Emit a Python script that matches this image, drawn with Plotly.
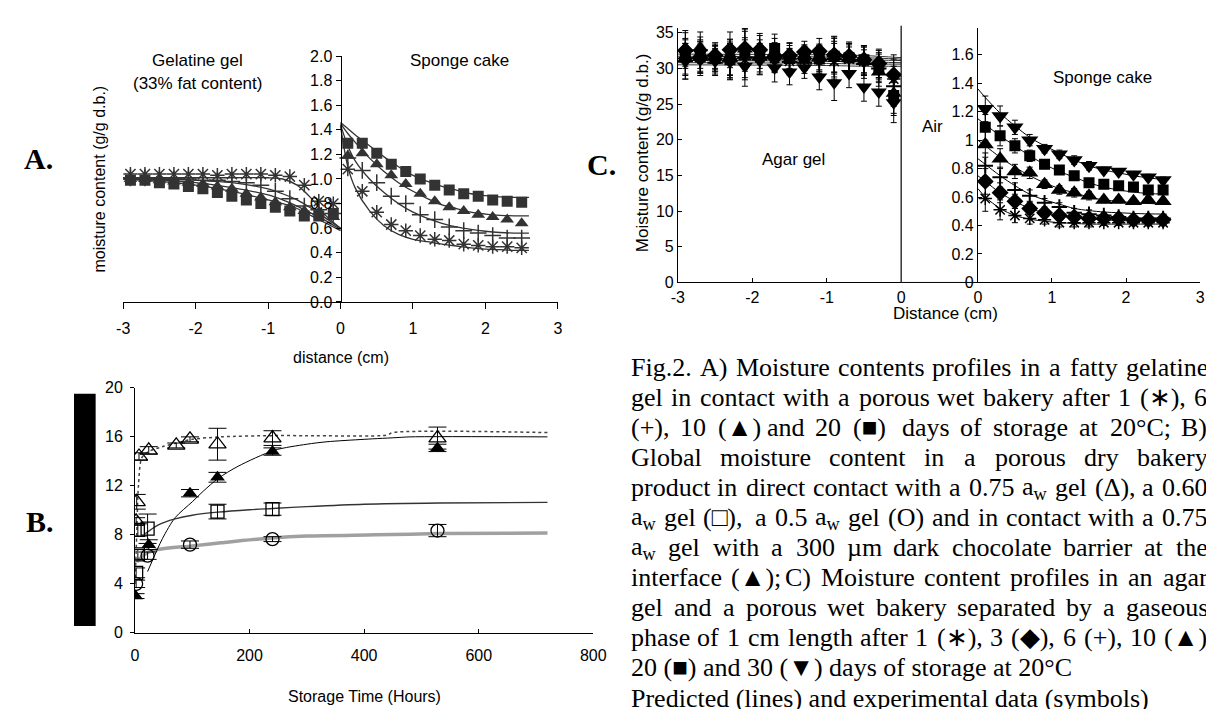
import plotly.graph_objects as go

# ---------------- DATA ----------------
# Panel A: gel side (negative distance) and sponge-cake side
A_gel_x = [-2.9, -2.7, -2.5, -2.3, -2.1, -1.9, -1.7, -1.5, -1.3, -1.1, -0.9, -0.7, -0.5, -0.3, -0.1]
A_gel_star = [1.04, 1.04, 1.04, 1.04, 1.04, 1.04, 1.03, 1.04, 1.04, 1.04, 1.03, 1.02, 0.95, 0.82, 0.80]
A_gel_plus = [1.01, 1.01, 1.00, 1.00, 1.00, 0.99, 0.99, 0.98, 0.97, 0.95, 0.90, 0.84, 0.78, 0.75, 0.72]
A_gel_tri = [1.00, 1.00, 0.99, 0.98, 0.97, 0.96, 0.94, 0.92, 0.88, 0.85, 0.81, 0.77, 0.74, 0.73, 0.69]
A_gel_sq = [0.99, 0.99, 0.97, 0.96, 0.94, 0.92, 0.89, 0.86, 0.83, 0.80, 0.77, 0.74, 0.70, 0.70, 0.72]

A_cake_x = [0.1, 0.3, 0.5, 0.7, 0.9, 1.1, 1.3, 1.5, 1.7, 1.9, 2.1, 2.3, 2.5]
A_cake_star = [1.08, 0.90, 0.73, 0.63, 0.58, 0.54, 0.51, 0.50, 0.47, 0.46, 0.45, 0.45, 0.44]
A_cake_plus = [1.17, 1.07, 0.97, 0.86, 0.80, 0.71, 0.67, 0.61, 0.58, 0.56, 0.54, 0.52, 0.52]
A_cake_tri = [1.19, 1.21, 1.12, 1.03, 0.96, 0.88, 0.82, 0.77, 0.74, 0.71, 0.69, 0.67, 0.64]
A_cake_sq = [1.29, 1.29, 1.21, 1.12, 1.06, 1.00, 0.95, 0.91, 0.88, 0.86, 0.83, 0.82, 0.81]

# predicted lines, panel A
A_line_gel_x = [-3.0, -2.5, -2.0, -1.5, -1.0, -0.8, -0.6, -0.4, -0.2, 0.0]
A_line_gel_star = [1.01, 1.01, 1.01, 1.01, 1.01, 1.00, 0.95, 0.84, 0.70, 0.60]
A_line_gel_plus = [1.00, 1.00, 0.99, 0.97, 0.92, 0.88, 0.83, 0.76, 0.68, 0.60]
A_line_gel_tri = [1.00, 0.99, 0.97, 0.93, 0.87, 0.83, 0.78, 0.72, 0.66, 0.59]
A_line_gel_sq = [1.00, 0.98, 0.95, 0.90, 0.83, 0.80, 0.76, 0.70, 0.64, 0.58]

A_line_cake_x = [0.0, 0.1, 0.2, 0.4, 0.6, 0.8, 1.0, 1.2, 1.4, 1.6, 1.8, 2.0, 2.2, 2.4, 2.6]
A_line_cake_sq = [1.46, 1.41, 1.36, 1.27, 1.18, 1.10, 1.03, 0.98, 0.94, 0.91, 0.88, 0.865, 0.855, 0.85, 0.85]
A_line_cake_tri = [1.45, 1.37, 1.30, 1.17, 1.06, 0.97, 0.90, 0.84, 0.79, 0.76, 0.73, 0.715, 0.705, 0.70, 0.70]
A_line_cake_plus = [1.44, 1.27, 1.15, 1.00, 0.89, 0.80, 0.73, 0.68, 0.64, 0.61, 0.59, 0.575, 0.565, 0.56, 0.56]
A_line_cake_star = [1.43, 1.10, 0.93, 0.74, 0.62, 0.55, 0.51, 0.49, 0.47, 0.455, 0.44, 0.43, 0.425, 0.42, 0.42]

# Panel B: global moisture content vs storage time (hours)
B_otri_t = [2, 3, 7, 24, 72, 96, 144, 240, 528]
B_otri_y = [9.1, 10.7, 14.4, 14.9, 15.3, 15.8, 15.4, 15.9, 15.9]
B_otri_e = [0.3, 0.6, 0.3, 0.3, 0.2, 0.2, 1.3, 0.6, 0.9]
B_ftri_t = [1, 24, 96, 144, 240, 528]
B_ftri_y = [3.0, 7.2, 11.4, 12.7, 14.8, 15.1]
B_ftri_e = [0.2, 0.4, 0.3, 0.4, 0.3, 0.3]
B_sq_t = [2, 5, 5, 22, 144, 240]
B_sq_y = [4.9, 6.4, 8.4, 8.5, 9.9, 10.1]
B_sq_e = [0.4, 0.4, 0.5, 1.2, 0.6, 0.5]
B_circ_t = [2, 22, 96, 240, 528]
B_circ_y = [4.0, 6.3, 7.2, 7.65, 8.35]
B_circ_e = [0.3, 0.3, 0.3, 0.2, 0.5]

B_line_otri_t = [0, 3, 6, 12, 24, 48, 72, 100, 150, 240, 300, 440, 450, 720]
B_line_otri_y = [4.0, 8.0, 12.0, 14.3, 14.8, 15.2, 15.5, 15.8, 16.0, 16.1, 16.1, 16.15, 16.35, 16.35]
B_line_ftri_t = [22, 48, 70, 100, 120, 145, 180, 243, 300, 335, 400, 461, 480, 720]
B_line_ftri_y = [5.0, 7.7, 9.4, 10.7, 11.6, 12.6, 13.6, 14.9, 15.4, 15.6, 15.8, 15.95, 16.0, 16.0]
B_line_sq_t = [18, 40, 70, 100, 144, 200, 240, 300, 400, 530, 720]
B_line_sq_y = [8.1, 8.8, 9.3, 9.6, 9.85, 10.05, 10.15, 10.3, 10.5, 10.6, 10.65]
B_line_circ_t = [3, 20, 40, 100, 150, 240, 300, 420, 530, 720]
B_line_circ_y = [5.8, 6.5, 6.8, 7.1, 7.35, 7.75, 7.9, 8.0, 8.1, 8.15]

# Panel C left: agar gel
C_gel_x = [-2.9, -2.7, -2.5, -2.3, -2.1, -1.9, -1.7, -1.5, -1.3, -1.1, -0.9, -0.7, -0.5, -0.3, -0.1]
C_gel_star = [31.5, 31.8, 31.3, 31.6, 31.2, 31.5, 31.4, 31.0, 31.2, 31.4, 31.0, 31.3, 31.0, 30.5, 28.5]
C_gel_diam = [32.5, 31.5, 31.8, 32.6, 32.8, 32.6, 31.5, 31.8, 32.3, 32.4, 31.9, 31.7, 31.2, 30.7, 29.1]
C_gel_plus = [31.0, 31.2, 30.8, 31.0, 31.5, 31.2, 31.6, 30.9, 30.8, 31.1, 31.3, 31.0, 30.6, 30.0, 27.5]
C_gel_tri = [32.8, 32.9, 31.6, 31.5, 32.7, 32.9, 32.2, 31.7, 31.8, 31.6, 32.0, 31.5, 31.0, 29.5, 26.5]
C_gel_sq = [31.7, 31.6, 31.4, 31.2, 32.4, 32.0, 32.8, 31.4, 31.6, 31.3, 31.7, 31.5, 31.2, 30.2, 26.2]
C_gel_itri = [31.0, 32.2, 31.0, 30.9, 30.3, 31.1, 30.1, 29.5, 30.1, 28.8, 28.0, 29.3, 27.4, 26.7, 25.2]
C_gel_err = [2.5, 2.2, 1.8, 2.5, 2.8, 2.0, 2.0, 1.8, 1.5, 1.8, 2.5, 2.0, 2.0, 2.0, 2.8]

C_line_gel_x = [-3.0, -1.0, -0.5, 0.0]
C_line_gel = [[32.0, 31.9, 31.8, 31.5], [31.7, 31.6, 31.5, 31.3], [31.4, 31.3, 31.2, 31.1],
              [31.1, 31.0, 30.9, 30.8], [30.8, 30.7, 30.6, 30.6], [30.5, 30.4, 30.3, 30.3]]

# Panel C right: sponge cake
C_cake_x = [0.1, 0.3, 0.5, 0.7, 0.9, 1.1, 1.3, 1.5, 1.7, 1.9, 2.1, 2.3, 2.5]
C_cake_itri = [1.22, 1.17, 1.09, 1.00, 0.94, 0.90, 0.86, 0.82, 0.79, 0.78, 0.76, 0.74, 0.72]
C_cake_sq = [1.09, 1.03, 0.96, 0.89, 0.83, 0.79, 0.75, 0.70, 0.69, 0.68, 0.67, 0.65, 0.65]
C_cake_tri = [0.97, 0.87, 0.78, 0.77, 0.69, 0.65, 0.63, 0.61, 0.58, 0.58, 0.57, 0.58, 0.57]
C_cake_plus = [0.82, 0.74, 0.65, 0.61, 0.56, 0.53, 0.49, 0.48, 0.47, 0.46, 0.45, 0.45, 0.45]
C_cake_diam = [0.71, 0.63, 0.57, 0.52, 0.49, 0.47, 0.46, 0.45, 0.45, 0.45, 0.44, 0.44, 0.44]
C_cake_star = [0.59, 0.51, 0.47, 0.45, 0.44, 0.42, 0.42, 0.42, 0.42, 0.42, 0.42, 0.42, 0.42]
C_cake_err = [0.09, 0.07, 0.05, 0.04, 0.03, 0.03, 0.03, 0.03, 0.02, 0.02, 0.02, 0.02, 0.02]

C_line_cake_x = [0.0, 0.1, 0.3, 0.5, 0.7, 0.9, 1.1, 1.3, 1.5, 1.7, 1.9, 2.1, 2.3, 2.55]
C_line_cake_itri = [1.36, 1.30, 1.19, 1.10, 1.02, 0.96, 0.91, 0.86, 0.82, 0.79, 0.77, 0.75, 0.735, 0.72]
C_line_cake_sq = [1.15, 1.11, 1.03, 0.96, 0.89, 0.83, 0.78, 0.74, 0.70, 0.67, 0.65, 0.635, 0.625, 0.62]
C_line_cake_tri = [1.00, 0.96, 0.88, 0.81, 0.75, 0.70, 0.66, 0.63, 0.60, 0.58, 0.57, 0.56, 0.555, 0.55]
C_line_cake_plus = [0.87, 0.83, 0.75, 0.68, 0.62, 0.58, 0.55, 0.52, 0.505, 0.495, 0.49, 0.485, 0.482, 0.48]
C_line_cake_diam = [0.75, 0.71, 0.63, 0.57, 0.52, 0.49, 0.47, 0.455, 0.445, 0.44, 0.435, 0.432, 0.43, 0.43]
C_line_cake_star = [0.66, 0.60, 0.52, 0.47, 0.445, 0.43, 0.42, 0.415, 0.41, 0.41, 0.41, 0.41, 0.41, 0.41]

# tick labels
A_xticks = [-3, -2, -1, 0, 1, 2, 3]
A_yticks = [0.0, 0.2, 0.4, 0.6, 0.8, 1.0, 1.2, 1.4, 1.6, 1.8, 2.0]
B_xticks = [0, 200, 400, 600, 800]
B_yticks = [0, 4, 8, 12, 16, 20]
C_lx_ticks = [-3, -2, -1, 0]
C_rx_ticks = [0, 1, 2, 3]
C_ly_ticks = [0, 5, 10, 15, 20, 25, 30, 35]
C_ry_ticks = [0, 0.2, 0.4, 0.6, 0.8, 1, 1.2, 1.4, 1.6]

caption_lines = [
    ("Fig.2. A) Moisture contents profiles in a fatty gelatine", True),
    ("gel in contact with a porous wet bakery after 1 (\u2217), 6", True),
    ("(+), 10 (\u25b2) and 20 (\u25a0) days of storage at 20\u00b0C; B)", True),
    ("Global moisture content in a porous dry bakery", True),
    ("product in direct contact with a 0.75 a<sub>w</sub> gel (\u0394), a 0.60", True),
    ("a<sub>w</sub> gel (\u25a1), a 0.5 a<sub>w</sub> gel (O) and in contact with a 0.75", True),
    ("a<sub>w</sub> gel with a 300 \u00b5m dark chocolate barrier at the", True),
    ("interface (\u25b2); C) Moisture content profiles in an agar", True),
    ("gel and a porous wet bakery separated by a gaseous", True),
    ("phase of 1 cm length after 1 (\u2217), 3 (\u25c6), 6 (+), 10 (\u25b2),", True),
    ("20 (\u25a0) and 30 (\u25bc) days of storage at 20\u00b0C", False),
    ("Predicted (lines) and experimental data (symbols)", False),
]

# ---------------- LAYOUT HELPERS ----------------
W, H = 1214, 709
def fx(px):
    return px / W
def fy(py):
    return 1 - py / H

SANS = "Liberation Sans, Arial, sans-serif"
SERIF = "Liberation Serif, Times New Roman, serif"
DG = "#333333"

fig = go.Figure()

def line(x, y, xa, ya, color=DG, width=1.3, dash="solid", shape="spline"):
    fig.add_trace(go.Scatter(x=x, y=y, xaxis=xa, yaxis=ya, mode="lines",
                             line=dict(color=color, width=width, dash=dash, shape=shape, smoothing=0.8),
                             hoverinfo="skip"))

def pts(x, y, xa, ya, symbol, size, color=DG, lw=0, err=None, errw=3):
    m = dict(symbol=symbol, size=size, color=color, line=dict(color=color, width=lw))
    kw = {}
    if err is not None:
        kw["error_y"] = dict(type="data", array=err, visible=True, color=color, thickness=1, width=errw)
    fig.add_trace(go.Scatter(x=x, y=y, xaxis=xa, yaxis=ya, mode="markers", marker=m, **kw))

# ---------------- PANEL A ----------------
for yv in [A_line_gel_star, A_line_gel_plus, A_line_gel_tri, A_line_gel_sq]:
    line(A_line_gel_x, yv, "x", "y")
for yv in [A_line_cake_sq, A_line_cake_tri, A_line_cake_plus, A_line_cake_star]:
    line(A_line_cake_x, yv, "x", "y")
pts(A_gel_x, A_gel_sq, "x", "y", "square", 11)
pts(A_gel_x, A_gel_tri, "x", "y", "triangle-up", 12)
pts(A_gel_x, A_gel_plus, "x", "y", "cross-thin-open", 12, lw=1.5)
pts(A_gel_x, A_gel_star, "x", "y", "asterisk-open", 12, lw=1.5)
pts(A_cake_x, A_cake_sq, "x", "y", "square", 11)
pts(A_cake_x, A_cake_tri, "x", "y", "triangle-up", 12)
pts(A_cake_x, A_cake_plus, "x", "y", "cross-thin-open", 12, lw=1.5)
pts(A_cake_x, A_cake_star, "x", "y", "asterisk-open", 12, lw=1.5)

# ---------------- PANEL B ----------------
line(B_line_circ_t, B_line_circ_y, "x2", "y2", color="#a0a0a0", width=3.5)
line(B_line_otri_t, B_line_otri_y, "x2", "y2", color="#444444", width=1.5, dash="dot")
line(B_line_ftri_t, B_line_ftri_y, "x2", "y2", color="black", width=1)
line(B_line_sq_t, B_line_sq_y, "x2", "y2", color="#333333", width=1.3)
pts(B_otri_t, B_otri_y, "x2", "y2", "triangle-up-open", 15, color="black", lw=1.3, err=B_otri_e, errw=9)
pts(B_ftri_t, B_ftri_y, "x2", "y2", "triangle-up", 13, color="black", err=B_ftri_e, errw=9)
pts(B_sq_t, B_sq_y, "x2", "y2", "square-open", 13, color="black", lw=1.3, err=B_sq_e, errw=9)
pts(B_circ_t, B_circ_y, "x2", "y2", "circle-open", 13, color="black", lw=1.3, err=B_circ_e, errw=9)

# ---------------- PANEL C ----------------
for yv in C_line_gel:
    line(C_line_gel_x, yv, "x3", "y3", color="#333333", width=1)
for yv, sym, sz, lw in [(C_gel_star, "asterisk-open", 11, 1.5), (C_gel_diam, "diamond", 13, 0),
                        (C_gel_plus, "cross-thin-open", 11, 2), (C_gel_tri, "triangle-up", 14, 0),
                        (C_gel_sq, "square", 11, 0), (C_gel_itri, "triangle-down", 14, 0)]:
    pts(C_gel_x, yv, "x3", "y3", sym, sz, color="black", lw=lw, err=C_gel_err, errw=3)

for yv in [C_line_cake_itri, C_line_cake_sq, C_line_cake_tri, C_line_cake_plus, C_line_cake_diam, C_line_cake_star]:
    line(C_line_cake_x, yv, "x4", "y4", color="black", width=1)
for yv, sym, sz, lw in [(C_cake_star, "asterisk-open", 11, 1.5), (C_cake_diam, "diamond", 13, 0),
                        (C_cake_plus, "cross-thin-open", 11, 2), (C_cake_tri, "triangle-up", 15, 0),
                        (C_cake_sq, "square", 11, 0), (C_cake_itri, "triangle-down", 15, 0)]:
    pts(C_cake_x, yv, "x4", "y4", sym, sz, color="black", lw=lw, err=C_cake_err, errw=3)

# ---------------- AXES ----------------
def ax(**kw):
    d = dict(showgrid=False, zeroline=False, showline=True, linecolor="black", linewidth=1,
             tickcolor="black", ticklen=5, tickfont=dict(family=SANS, size=16, color="black"))
    d.update(kw)
    return d

layout = dict(
    width=W, height=H, margin=dict(l=0, r=0, t=0, b=0), showlegend=False,
    paper_bgcolor="white", plot_bgcolor="rgba(0,0,0,0)",
    xaxis=ax(domain=[fx(110), fx(552)], range=[-3, 3], anchor="y", ticks="outside",
             tickvals=A_xticks, ticktext=[str(v) for v in A_xticks], ticklen=6, ticklabelstandoff=6),
    yaxis=ax(domain=[fy(293), fy(41)], range=[0, 2], anchor="free", position=fx(331), ticks="outside",
             tickvals=A_yticks, ticktext=["%.1f" % v for v in A_yticks], ticklen=5),
    xaxis2=ax(domain=[fx(122), fx(588)], range=[0, 800], anchor="y2", ticks="inside",
              tickvals=B_xticks, ticktext=[str(v) for v in B_xticks], ticklen=4, ticklabelstandoff=8),
    yaxis2=ax(domain=[fy(632), fy(381)], range=[0, 20], anchor="x2", ticks="outside",
              tickvals=B_yticks, ticktext=[str(v) for v in B_yticks], ticklen=4, ticklabelstandoff=4),
    xaxis3=ax(domain=[fx(674), fx(901)], range=[-3, 0], anchor="y3", ticks="inside",
              tickvals=C_lx_ticks, ticktext=[str(v) for v in C_lx_ticks], ticklen=4),
    yaxis3=ax(domain=[fy(273), fy(12)], range=[0, 35.7], anchor="x3", ticks="inside",
              tickvals=C_ly_ticks, ticktext=[str(v) for v in C_ly_ticks], ticklen=4),
    xaxis4=ax(domain=[fx(979), fx(1205)], range=[0, 3], anchor="y4", ticks="inside",
              tickvals=C_rx_ticks, ticktext=[str(v) for v in C_rx_ticks], ticklen=4),
    yaxis4=ax(domain=[fy(273), fy(12)], range=[0, 1.79], anchor="x4", ticks="inside",
              tickvals=C_ry_ticks, ticktext=[("%g" % v) for v in C_ry_ticks], ticklen=4),
)
fig.update_layout(**layout)

# shapes: C divider lines, B black bar
fig.add_shape(type="line", xref="paper", yref="paper", x0=fx(901), x1=fx(901), y0=fy(273), y1=fy(10),
              line=dict(color="black", width=1.2))
fig.add_shape(type="line", xref="paper", yref="paper", x0=fx(901), x1=fx(979), y0=fy(273), y1=fy(273),
              line=dict(color="black", width=1))
fig.add_shape(type="rect", xref="paper", yref="paper", x0=fx(60), x1=fx(82), y0=fy(625), y1=fy(387),
              fillcolor="black", line=dict(width=0))

# ---------------- TEXT ----------------
def txt(s, px, py, size=16, family=SANS, angle=0, xanchor="center", bold=False):
    if bold:
        s = "<b>" + s + "</b>"
    fig.add_annotation(text=s, x=fx(px), y=fy(py), xref="paper", yref="paper", showarrow=False,
                       xanchor=xanchor, yanchor="middle", textangle=angle,
                       font=dict(family=family, size=size, color="black"))

txt("Gelatine gel", 186, 46, 17)
txt("(33% fat content)", 186, 69, 17)
txt("Sponge cake", 452, 46, 17)
txt("distance (cm)", 331, 350, 16)
txt("moisture content (g/g d.b.)", 86, 167, 16, angle=-90)
txt("A.", 24, 146, 30, SERIF, bold=True)

txt("Storage Time (Hours)", 355, 697, 16)
txt("B.", 25, 518, 30, SERIF, bold=True)

txt("Moisture content (g/g d.b.)", 638, 140, 17, angle=-90)
txt("Agar gel", 792, 147, 17)
txt("Air", 933, 113, 17)
txt("Sponge cake", 1106, 63, 17)
txt("Distance (cm)", 946, 305, 17)
txt("C.", 596, 152, 30, SERIF, bold=True)

# caption with per-word justification using Times metrics
TW = {' ': 250, '.': 250, ',': 250, '(': 333, ')': 333, ';': 278, ':': 278, '+': 564, '\u00b0': 400,
      '\u00b5': 500, '\u0394': 612, '\u2217': 838, '\u25a0': 770, '\u25b2': 770, '\u25bc': 770,
      '\u25c6': 770, '\u25a1': 770, '%': 833, '/': 278, '-': 333}
low = dict(zip("abcdefghijklmnopqrstuvwxyz",
               [444, 500, 444, 500, 444, 333, 500, 500, 278, 278, 500, 278, 778, 500, 500, 500, 500, 333, 389, 278, 500, 500, 722, 500, 500, 444]))
up = dict(zip("ABCDEFGHIJKLMNOPQRSTUVWXYZ",
              [722, 667, 667, 722, 611, 556, 722, 722, 333, 389, 722, 611, 889, 722, 722, 556, 722, 667, 556, 611, 722, 722, 944, 722, 722, 611]))
TW.update(low)
TW.update(up)
for d in "0123456789":
    TW[d] = 500

def word_w(w, size):
    total = 0.0
    i = 0
    scale = 1.0
    while i < len(w):
        if w.startswith("<sub>", i):
            scale = 0.7
            i += 5
            continue
        if w.startswith("</sub>", i):
            scale = 1.0
            i += 6
            continue
        total += TW.get(w[i], 500) * scale
        i += 1
    return total / 1000.0 * size

CAP_SIZE = 26
CAP_X0, CAP_X1 = 624, 1210
CAP_Y0, CAP_DY = 360, 30.8
for i, (ln, just) in enumerate(caption_lines):
    py = CAP_Y0 + CAP_DY * i
    if not just:
        txt(ln, CAP_X0, py, CAP_SIZE, SERIF, xanchor="left")
        continue
    words = ln.split(" ")
    widths = [word_w(w, CAP_SIZE) for w in words]
    gap = (CAP_X1 - CAP_X0 - sum(widths)) / (len(words) - 1)
    xpos = CAP_X0
    for w, ww in zip(words, widths):
        txt(w, xpos, py, CAP_SIZE, SERIF, xanchor="left")
        xpos += ww + gap

fig.write_html("out.html")
